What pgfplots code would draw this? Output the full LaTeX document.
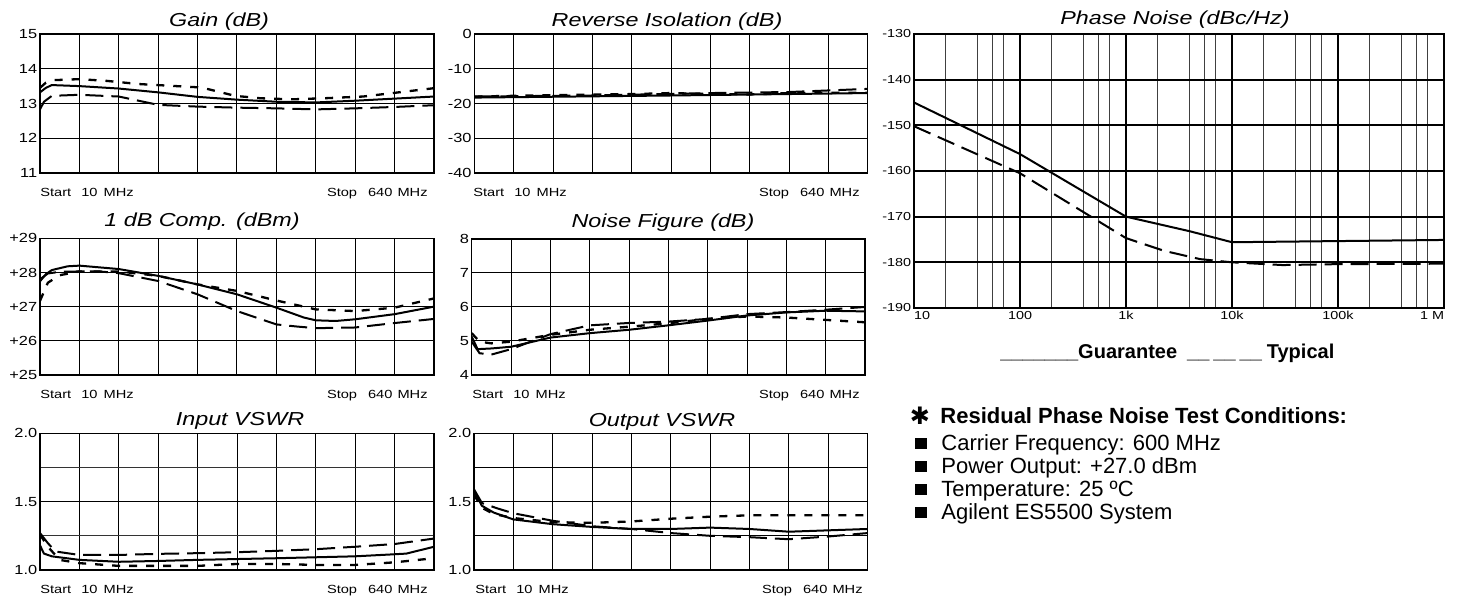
\documentclass[border=0pt]{standalone}
\usepackage{pgfplots}
\pgfplotsset{compat=1.18}
\usepackage{fontspec}
\setmainfont{Liberation Sans}
\newfontfamily\chartfont[FakeStretch=1.24]{Liberation Sans}
\newfontfamily\symfont{DejaVu Sans}
\newcommand{\startlbl}{Start\hspace{5pt}10\hspace{3pt}MHz}
\newcommand{\stoplbl}{Stop\hspace{5.5pt}640\hspace{2.5pt}MHz}
\pgfplotsset{
  small/.style={
    scale only axis, anchor=south west,
    xmin=0, xmax=10, xtick={0,...,10}, xticklabels={},
    grid=major, major grid style={black, line width=0.5pt},
    axis line style={black, line width=0.55pt},
    major tick length=0pt, minor tick length=0pt,
    yticklabel style={font=\chartfont\fontsize{6.6}{7.5}\selectfont, inner sep=1.2pt},
  },
  guar/.style={black, line width=1pt},
  typ/.style={black, line width=1pt, dash pattern=on 9pt off 4pt},
  dott/.style={black, line width=1.15pt, dash pattern=on 4pt off 4.5pt},
}
\newcommand{\ttl}{\chartfont\itshape\fontsize{9.4}{10}\selectfont}
\newcommand{\sfs}{\chartfont\fontsize{5.9}{6.5}\selectfont}
\begin{document}
\begin{tikzpicture}
\useasboundingbox (0,0) rectangle (732pt,298.5pt);

% ---------- Gain ----------
\begin{axis}[small, at={(20pt,212pt)}, width=197pt, height=69.5pt,
  ymin=11, ymax=15, ytick={11,12,13,14,15}, yticklabels={11,12,13,14,15}]
\addplot[guar] coordinates {(0,13.32) (0.15,13.45) (0.3,13.53) (1,13.5) (2,13.43) (3,13.32) (4,13.19) (5,13.11) (6,13.05) (7,13.03) (8,13.08) (9,13.14) (10,13.2)};
\addplot[dott] coordinates {(0,13.45) (0.15,13.6) (0.3,13.67) (1,13.70) (1.7,13.65) (2.5,13.56) (4.1,13.46) (4.95,13.22) (5.6,13.15) (6.4,13.12) (7.2,13.15) (8.2,13.2) (9.1,13.32) (10,13.44)};
\addplot[typ] coordinates {(0,12.83) (0.1,13.05) (0.3,13.22) (1,13.25) (2,13.2) (2.5,13.08) (3,12.96) (4,12.91) (5,12.88) (6,12.86) (7,12.83) (8,12.86) (9,12.9) (10,12.95)};
\end{axis}
\node[anchor=base, font=\ttl] at (109.5pt,285pt) {Gain (dB)};
\node[anchor=base west, font=\sfs, inner sep=0] at (20pt,200pt) {\startlbl};
\node[anchor=base east, font=\sfs, inner sep=0] at (214pt,200pt) {\stoplbl};

% ---------- Reverse Isolation ----------
\begin{axis}[small, at={(237.2pt,212pt)}, width=196.7pt, height=69.5pt,
  ymin=-40, ymax=0, ytick={-40,-30,-20,-10,0}, yticklabels={-40,-30,-20,-10,0}]
\addplot[guar] coordinates {(0,-18.3) (5,-17.7) (10,-17.0)};
\addplot[typ] coordinates {(0,-18.0) (3,-17.7) (6,-17.0) (8,-16.7) (10,-15.8)};
\addplot[dott] coordinates {(0,-18.0) (2,-17.6) (4,-17.3) (5,-17.0) (6,-17.3) (7,-17.4) (8,-17.0) (10,-16.9)};
\end{axis}
\node[anchor=base, font=\ttl] at (333.5pt,285pt) {Reverse Isolation (dB)};
\node[anchor=base west, font=\sfs, inner sep=0] at (236.5pt,200pt) {\startlbl};
\node[anchor=base east, font=\sfs, inner sep=0] at (430pt,200pt) {\stoplbl};

% ---------- 1 dB Comp ----------
\begin{axis}[small, at={(20pt,111pt)}, width=197pt, height=68.35pt,
  ymin=25, ymax=29, ytick={25,26,27,28,29}, yticklabels={+25,+26,+27,+28,+29}]
\addplot[guar] coordinates {(0,27.74) (0.15,27.95) (0.3,28.07) (0.7,28.18) (1,28.2) (2,28.1) (3,27.9) (4,27.65) (5,27.36) (6,26.97) (6.7,26.68) (7,26.6) (7.5,26.58) (8,26.63) (9,26.78) (10,27.0)};
\addplot[dott] coordinates {(0,27.17) (0.2,27.7) (0.5,27.92) (1,28.03) (2,28.03) (3,27.9) (4,27.65) (5,27.46) (6,27.18) (7,26.92) (8,26.87) (9,26.97) (10,27.24)};
\addplot[typ] coordinates {(0,27.8) (0.2,27.97) (0.5,28.02) (1,28.03) (1.5,28.03) (2,27.98) (3,27.75) (4,27.36) (5,26.87) (6,26.48) (6.5,26.42) (7,26.37) (8,26.39) (9,26.52) (10,26.64)};
\end{axis}
\node[anchor=base, font=\ttl] at (101pt,185pt) {1 dB Comp. (dBm)};
\node[anchor=base west, font=\sfs, inner sep=0] at (20pt,99pt) {\startlbl};
\node[anchor=base east, font=\sfs, inner sep=0] at (214pt,99pt) {\stoplbl};

% ---------- Noise Figure ----------
\begin{axis}[small, at={(235.85pt,111pt)}, width=196.65pt, height=68pt,
  ymin=4, ymax=8, ytick={4,5,6,7,8}, yticklabels={4,5,6,7,8}]
\addplot[guar] coordinates {(0,5.13) (0.15,4.76) (0.5,4.78) (1,4.83) (2,5.1) (3,5.23) (4,5.33) (5,5.46) (6,5.6) (7,5.75) (8,5.84) (9,5.89) (10,5.87)};
\addplot[typ] coordinates {(0,4.98) (0.2,4.64) (0.5,4.6) (1,4.76) (2,5.2) (3,5.46) (4,5.53) (5,5.57) (6,5.65) (7,5.79) (8,5.85) (9,5.92) (10,6.0)};
\addplot[dott] coordinates {(0,5.23) (0.2,4.98) (0.5,4.93) (1,4.98) (2,5.18) (3,5.33) (4,5.42) (5,5.52) (6,5.65) (7,5.72) (8,5.69) (9,5.62) (10,5.55)};
\end{axis}
\node[anchor=base, font=\ttl] at (331.5pt,184.5pt) {Noise Figure (dB)};
\node[anchor=base west, font=\sfs, inner sep=0] at (236pt,99pt) {\startlbl};
\node[anchor=base east, font=\sfs, inner sep=0] at (430pt,99pt) {\stoplbl};

% ---------- Input VSWR ----------
\begin{axis}[small, at={(20pt,13.5pt)}, width=197pt, height=68.35pt,
  ymin=1, ymax=2, ytick={1,1.5,2}, yticklabels={1.0,1.5,2.0},
  minor ytick={1.25,1.75}, grid=both, minor grid style={black!80, line width=0.4pt}]
\addplot[guar] coordinates {(0,1.18) (0.1,1.12) (0.3,1.10) (1,1.074) (2,1.06) (3,1.066) (4,1.074) (5,1.08) (6,1.086) (7,1.093) (8,1.10) (9,1.115) (9.3,1.12) (10,1.17)};
\addplot[typ] coordinates {(0,1.27) (0.2,1.196) (0.4,1.135) (1,1.11) (2,1.11) (3,1.118) (4,1.123) (5,1.13) (6,1.14) (7,1.152) (8,1.17) (9,1.19) (10,1.23)};
\addplot[dott] coordinates {(0,1.26) (0.2,1.17) (0.5,1.074) (1,1.05) (2,1.03) (3,1.03) (4,1.03) (5,1.044) (6,1.044) (7,1.037) (8,1.037) (9,1.056) (10,1.086)};
\end{axis}
\node[anchor=base, font=\ttl] at (120pt,85.5pt) {Input VSWR};
\node[anchor=base west, font=\sfs, inner sep=0] at (20pt,1.5pt) {\startlbl};
\node[anchor=base east, font=\sfs, inner sep=0] at (214pt,1.5pt) {\stoplbl};

% ---------- Output VSWR ----------
\begin{axis}[small, at={(237pt,13.5pt)}, width=196.8pt, height=68.35pt,
  ymin=1, ymax=2, ytick={1,1.5,2}, yticklabels={1.0,1.5,2.0},
  minor ytick={1.25,1.75}, grid=both, minor grid style={black, line width=0.5pt}]
\addplot[guar] coordinates {(0,1.578) (0.2,1.47) (0.5,1.42) (1,1.37) (2,1.335) (3,1.315) (4,1.30) (5,1.30) (6,1.31) (7,1.30) (8,1.28) (9,1.29) (10,1.30)};
\addplot[typ] coordinates {(0,1.59) (0.2,1.49) (0.6,1.45) (1,1.415) (2,1.36) (3,1.32) (4,1.30) (5,1.27) (6,1.25) (7,1.24) (8,1.225) (9,1.245) (10,1.27)};
\addplot[dott] coordinates {(0,1.55) (0.2,1.455) (0.5,1.41) (1,1.38) (2,1.35) (3,1.345) (4,1.355) (5,1.375) (6,1.39) (7,1.40) (8,1.40) (9,1.40) (10,1.40)};
\end{axis}
\node[anchor=base, font=\ttl] at (331pt,85pt) {Output VSWR};
\node[anchor=base west, font=\sfs, inner sep=0] at (237.5pt,1.5pt) {\startlbl};
\node[anchor=base east, font=\sfs, inner sep=0] at (431.5pt,1.5pt) {\stoplbl};

% ---------- Phase Noise ----------
\begin{axis}[at={(457pt,144.5pt)}, anchor=south west, scale only axis,
  width=265pt, height=137pt,
  xmode=log, log basis x=10, xmin=10, xmax=1000000, ymin=-190, ymax=-130,
  xtick={10,100,1000,10000,100000,1000000},
  xticklabels={\makebox[0pt][l]{10},100,1k,10k,100k,\makebox[0pt][r]{1 M}},
  minor xtick={20,40,55,70,200,400,550,700,2000,4000,5500,7000,20000,40000,55000,70000,200000,400000,550000,700000},
  ytick={-190,-180,-170,-160,-150,-140,-130},
  yticklabels={-190,-180,-170,-160,-150,-140,-130},
  grid=both,
  major x grid style={black, line width=1.3pt},
  major y grid style={black, line width=0.9pt},
  minor grid style={black!75, line width=0.45pt},
  axis line style={black, line width=1.2pt},
  major tick length=0pt, minor tick length=0pt,
  xticklabel style={font=\chartfont\fontsize{5.8}{6.5}\selectfont, inner sep=1.5pt},
  yticklabel style={font=\chartfont\fontsize{5.8}{6.5}\selectfont, inner sep=1.2pt},
]
\addplot[guar] coordinates {(10,-145) (100,-156.3) (1000,-170) (4000,-173.2) (10000,-175.6) (1000000,-175.1)};
\addplot[typ] coordinates {(10,-150.2) (100,-160.5) (1000,-174.7) (2300,-177.5) (5000,-179.3) (10000,-180) (30000,-180.6) (100000,-180.4) (1000000,-180.3)};
\end{axis}
\node[anchor=base, font=\ttl] at (587.5pt,286pt) {Phase Noise (dBc/Hz)};

% ---------- Legend and conditions ----------
\node[anchor=base west, inner sep=0, font=\bfseries\fontsize{10}{12}\selectfont] at (500pt,119pt)
  {\_\_\_\_\_\_\_Guarantee\hspace{5pt}\_\_\kern2pt\_\_\kern2pt\_\_\kern2.5pt Typical};
\node[inner sep=0, font=\symfont\fontsize{12}{12}\selectfont] at (460pt,90.5pt) {✱};
\node[anchor=base west, inner sep=0, font=\bfseries\fontsize{11}{13}\selectfont] at (470pt,86.5pt)
  {Residual Phase Noise Test Conditions:};
\foreach \yy/\txt in {73/{Carrier Frequency: 600 MHz}, 61.5/{Power Output: +27.0 dBm}, 50/{Temperature: 25 ºC}, 38.5/{Agilent ES5500 System}}{
  \fill[black] (457.5pt,\yy pt+1pt) rectangle ++(6pt,5.5pt);
  \node[anchor=base west, inner sep=0, font=\fontsize{11}{13}\selectfont] at (470.5pt,\yy pt) {\txt};
}
\end{tikzpicture}
\end{document}
